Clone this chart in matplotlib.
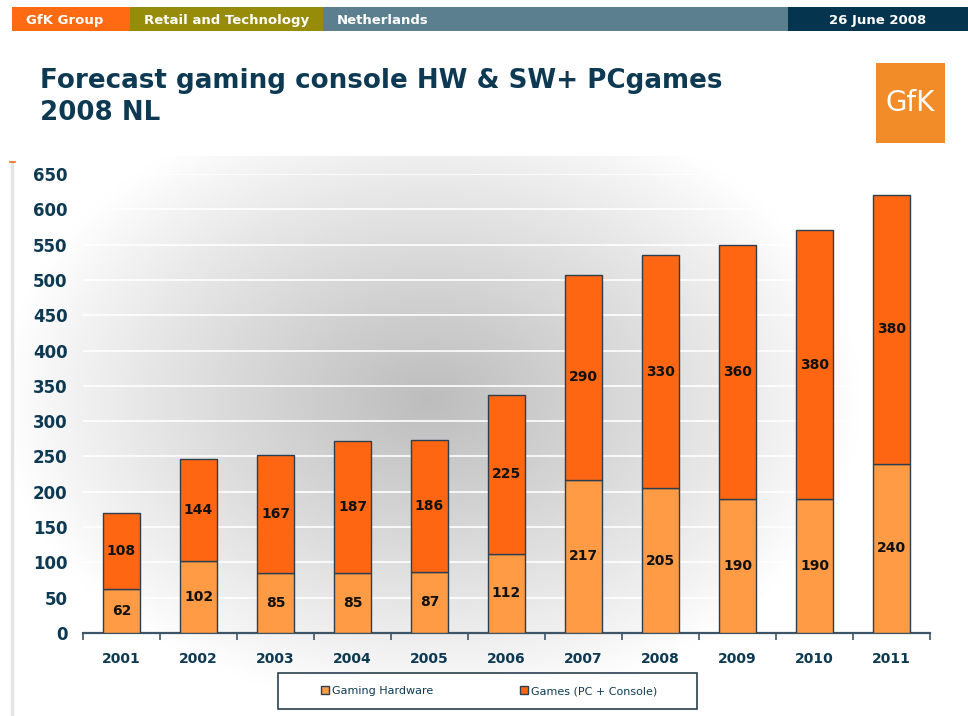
import numpy as np
import matplotlib.pyplot as plt
from matplotlib.patches import Rectangle

# data
years = ['2001', '2002', '2003', '2004', '2005', '2006', '2007', '2008', '2009', '2010', '2011']
hardware = [62, 102, 85, 85, 87, 112, 217, 205, 190, 190, 240]
games = [108, 144, 167, 187, 186, 225, 290, 330, 360, 380, 380]
yticks = list(range(0, 651, 50))

navy = '#0d3a52'
c_hw = '#ff9a45'
c_games = '#ff6611'
edge = '#2b3f4f'

W, H = 968, 716
fig = plt.figure(figsize=(W / 100, H / 100), dpi=100)
fig.patch.set_facecolor('white')

# grey radial shading behind the chart
bg = fig.add_axes([12 / W, 0, (W - 12) / W, 560 / H])
bg.set_zorder(-2)
px, py = np.meshgrid(np.linspace(12, W, 300), np.linspace(156, H, 200))
d = np.sqrt(((px - 430) / 430) ** 2 + ((py - 400) / 310) ** 2)
shade = 1 - 0.26 * np.clip(1 - d, 0, 1) ** 0.9
bg.imshow(shade, cmap='gray', vmin=0, vmax=1, aspect='auto',
          extent=[0, 1, 0, 1], interpolation='bicubic')
bg.axis('off')

# main bar chart
ax = fig.add_axes([83 / W, 83 / H, 847 / W, 459 / H])
ax.set_facecolor('none')
x = np.arange(len(years))
bw = 0.47
ax.bar(x, hardware, bw, color=c_hw, edgecolor=edge, linewidth=1, zorder=3, label='Gaming Hardware')
ax.bar(x, games, bw, bottom=hardware, color=c_games, edgecolor=edge, linewidth=1, zorder=3,
       label='Games (PC + Console)')

for i in range(len(years)):
    ax.text(x[i], hardware[i] / 2, str(hardware[i]), ha='center', va='center',
            fontsize=10, fontweight='bold', color='#111111', zorder=4)
    ax.text(x[i], hardware[i] + games[i] / 2, str(games[i]), ha='center', va='center',
            fontsize=10, fontweight='bold', color='#111111', zorder=4)

ax.set_xlim(-0.5, len(years) - 0.5)
ax.set_ylim(0, 650)
ax.set_yticks(yticks)
ax.set_yticklabels([str(v) for v in yticks], fontsize=12, fontweight='bold', color=navy)
ax.tick_params(axis='y', length=0, pad=11)
ax.set_xticks(x)
ax.set_xticklabels(years, fontsize=10, fontweight='bold', color=navy)
ax.tick_params(axis='x', which='major', length=0, pad=14)
ax.set_xticks(np.arange(-0.5, len(years)), minor=True)
ax.tick_params(axis='x', which='minor', length=5, width=1.2, color='#3d5566', direction='out')
ax.yaxis.grid(True, color='white', linewidth=1.2, zorder=1)
ax.set_axisbelow(True)
for s in ['top', 'right', 'left']:
    ax.spines[s].set_visible(False)
ax.spines['bottom'].set_color('#3d5566')
ax.spines['bottom'].set_linewidth(1.6)

# page decoration: header bar, title, logo, legend frame
deco = fig.add_axes([0, 0, 1, 1])
deco.set_xlim(0, W)
deco.set_ylim(H, 0)
deco.axis('off')
deco.set_zorder(-1)
header = [('GfK Group', 12, 130, '#ff6a13', 'left'),
          ('Retail and Technology', 130, 323, '#968c0a', 'left'),
          ('Netherlands', 323, 788, '#5b7f8f', 'left'),
          ('26 June 2008', 788, 968, '#04344e', 'right')]
for label, x0, x1, col, al in header:
    deco.add_patch(Rectangle((x0, 7), x1 - x0, 24, color=col, lw=0))
    tx = x0 + 14 if al == 'left' else x1 - 42
    deco.text(tx, 24, label, ha=al, va='baseline', color='white', fontsize=9.5, fontweight='bold')

deco.text(40, 97, 'Forecast gaming console HW & SW+ PCgames\n2008 NL', ha='left', va='center',
          fontsize=18.8, fontweight='bold', color=navy, linespacing=1.3)

deco.add_patch(Rectangle((876, 63), 69, 80, color='#f28c28', lw=0))
deco.text(910, 103, 'GfK', ha='center', va='center', color='white', fontsize=20)

deco.plot([12, 12], [163, 716], color='#e2e5e8', lw=2.5)
deco.plot([10, 15], [162, 162], color='#ff6a13', lw=1.2)

deco.add_patch(Rectangle((278, 673), 419, 36, facecolor='white', edgecolor='#2b3f4f', lw=1.2))

leg = fig.legend(loc='center', bbox_to_anchor=(489 / W, 1 - 691 / H), ncol=2, fontsize=8,
                 frameon=False, handlelength=0.7, handleheight=0.7, handletextpad=0.3,
                 columnspacing=7.8)
for t in leg.get_texts():
    t.set_color(navy)

fig.savefig('out.png', dpi=100)
